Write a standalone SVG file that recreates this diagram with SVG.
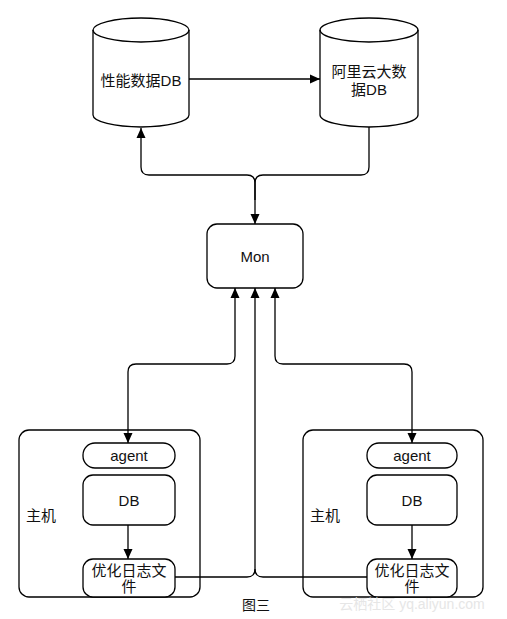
<svg xmlns="http://www.w3.org/2000/svg" width="507" height="619" viewBox="0 0 507 619">
<style>
.shape{fill:#fff;stroke:#000;stroke-width:1.3}
.edge{fill:none;stroke:#000;stroke-width:1.3}
text{font-family:"Liberation Sans","Noto Sans CJK SC",sans-serif;font-size:15px;fill:#111;text-anchor:middle;dominant-baseline:central}
.wm{fill:#e6e6e6;font-size:14px}
</style>
<defs>
<marker id="arr" viewBox="0 0 10 10" refX="10" refY="5" markerWidth="10" markerHeight="10" markerUnits="userSpaceOnUse" orient="auto-start-reverse">
<path d="M0,0.5 L10,5 L0,9.5 z" fill="#000"/>
</marker>
</defs>
<rect width="507" height="619" fill="#fff"/>

<g id="connectors">
<path class="edge" d="M189,79 H320" marker-end="url(#arr)"/>
<path class="edge" d="M369,127 V167 Q369,175 361,175 H263 Q255,175 255,183 V224" marker-end="url(#arr)"/>
<path class="edge" d="M255,200 V183 Q255,175 247,175 H149 Q141,175 141,167 V128" marker-end="url(#arr)"/>
<path class="edge" d="M128,443 V372 Q128,364 136,364 H227 Q235,364 235,356 V288" marker-start="url(#arr)" marker-end="url(#arr)"/>
<path class="edge" d="M412,443 V372 Q412,364 404,364 H283 Q275,364 275,356 V288" marker-start="url(#arr)" marker-end="url(#arr)"/>
<path class="edge" d="M175,577 H247 Q255,577 255,569 V288" marker-end="url(#arr)"/>
<path class="edge" d="M367,577 H263 Q255,577 255,569"/>
<path class="edge" d="M128,525 V559" marker-end="url(#arr)"/>
<path class="edge" d="M412,525 V559" marker-end="url(#arr)"/>
</g>

<g id="perfdb">
<path class="shape" d="M93,30 A48,12 0 0 1 189,30 V115 A48,12 0 0 1 93,115 Z"/>
<path class="edge" d="M93,30 A48,12 0 0 0 189,30"/>
<text x="141" y="80">性能数据DB</text>
</g>

<g id="alidb">
<path class="shape" d="M320,30 A49,12 0 0 1 418,30 V115 A49,12 0 0 1 320,115 Z"/>
<path class="edge" d="M320,30 A49,12 0 0 0 418,30"/>
<text x="369" y="71">阿里云大数</text>
<text x="369" y="89">据DB</text>
</g>

<g id="mon">
<rect class="shape" x="207" y="224" width="96" height="64" rx="10"/>
<text x="255" y="256">Mon</text>
</g>

<g id="host-left">
<rect class="edge" x="19" y="430" width="181" height="167" rx="10"/>
<text x="41" y="515">主机</text>
</g>
<g id="agent-left">
<rect class="shape" x="83" y="443" width="92" height="25" rx="12"/>
<text x="129" y="455">agent</text>
</g>
<g id="db-left">
<rect class="shape" x="83" y="475" width="92" height="50" rx="10"/>
<text x="129" y="500">DB</text>
</g>
<g id="log-left">
<rect class="shape" x="83" y="559" width="92" height="38" rx="10"/>
<text x="129" y="570">优化日志文</text>
<text x="129" y="586">件</text>
</g>

<g id="host-right">
<rect class="edge" x="303" y="430" width="180" height="167" rx="10"/>
<text x="325" y="515">主机</text>
</g>
<g id="agent-right">
<rect class="shape" x="367" y="443" width="90" height="25" rx="12"/>
<text x="412" y="455">agent</text>
</g>
<g id="db-right">
<rect class="shape" x="367" y="475" width="90" height="50" rx="10"/>
<text x="412" y="500">DB</text>
</g>
<g id="log-right">
<rect class="shape" x="367" y="559" width="90" height="38" rx="10"/>
<text x="412" y="570">优化日志文</text>
<text x="412" y="586">件</text>
</g>

<text x="256" y="605" style="font-size:14px">图三</text>
<text class="wm" x="412" y="604">云栖社区 yq.aliyun.com</text>
</svg>
